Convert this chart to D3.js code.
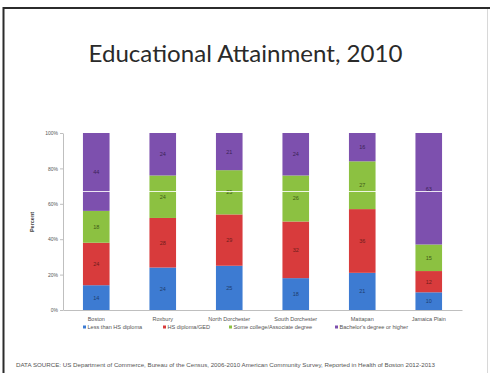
<!DOCTYPE html>
<html>
<head>
<meta charset="utf-8">
<script src="https://cdn.jsdelivr.net/npm/d3@7"></script>
<style>
  html, body { margin: 0; padding: 0; background: #fff; }
  svg { display: block; }
</style>
</head>
<body>
<svg id="chart" width="490" height="373"></svg>
<script>
// Neighborhoods shown along the x axis
const neighborhoods = ["Boston", "Roxbury", "North Dorchester", "South Dorchester", "Mattapan", "Jamaica Plain"];

// Education levels (stack order, bottom to top)
const levels = ["Less than HS diploma", "HS diploma/GED", "Some college/Associate degree", "Bachelor's degree or higher"];

// Percent of adults at each level, per neighborhood
const lessThanHS   = [14, 24, 25, 18, 21, 10];
const hsDiplomaGED = [24, 28, 29, 32, 36, 12];
const someCollege  = [18, 24, 25, 26, 27, 15];
const bachelors    = [44, 24, 21, 24, 16, 63];

const yTicks = [0, 0.2, 0.4, 0.6, 0.8, 1.0];

const colors = ["#3d7bd2", "#d83b3c", "#8cc141", "#7d50ae"];
const labelColors = ["#1d3d6e", "#6e1b1b", "#3f5a17", "#3b2356"];

const seriesValues = [lessThanHS, hsDiplomaGED, someCollege, bachelors];
const rows = neighborhoods.map((n, i) => {
  const r = { name: n };
  levels.forEach((l, j) => { r[l] = seriesValues[j][i]; });
  return r;
});

const svg = d3.select("#chart");

// Slide frame
svg.append("line").attr("x1", 3.5).attr("x2", 3.5).attr("y1", 7).attr("y2", 373)
  .attr("stroke", "#2b2b2b").attr("stroke-width", 2);
svg.append("line").attr("x1", 3).attr("x2", 490).attr("y1", 8).attr("y2", 8)
  .attr("stroke", "#2b2b2b").attr("stroke-width", 2);
svg.append("line").attr("x1", 487.5).attr("x2", 487.5).attr("y1", 9).attr("y2", 373)
  .attr("stroke", "#d8d8d8").attr("stroke-width", 1);

// Title
svg.append("text")
  .attr("x", 245.5).attr("y", 62)
  .attr("text-anchor", "middle")
  .attr("font-family", "Lato, 'Open Sans', sans-serif")
  .attr("font-size", 23.5)
  .attr("fill", "#2a2a2a")
  .attr("textLength", 314)
  .attr("lengthAdjust", "spacingAndGlyphs")
  .text("Educational Attainment, 2010");

const x = d3.scaleBand()
  .domain(neighborhoods)
  .range([63, 462])
  .paddingInner(0.6)
  .paddingOuter(0.3);

const y = d3.scaleLinear().domain([0, 100]).range([310, 133]);
const yPct = d3.scaleLinear().domain([0, 1]).range([310, 133]);

const stack = d3.stack().keys(levels);
const series = stack(rows);

// Bars
const g = svg.append("g");
series.forEach((s, si) => {
  g.selectAll(null).data(s).enter().append("rect")
    .attr("x", d => x(d.data.name))
    .attr("width", x.bandwidth())
    .attr("y", d => y(d[1]))
    .attr("height", d => y(d[0]) - y(d[1]))
    .attr("fill", colors[si]);
  g.selectAll(null).data(s).enter().append("text")
    .attr("x", d => x(d.data.name) + x.bandwidth() / 2)
    .attr("y", d => (y(d[0]) + y(d[1])) / 2 + 2)
    .attr("text-anchor", "middle")
    .attr("font-family", "'Liberation Sans', Arial, sans-serif")
    .attr("font-size", 5.5)
    .attr("fill", labelColors[si])
    .text(d => d.data[s.key]);
});

// Thin white rule crossing the slide
svg.append("line").attr("x1", 63).attr("x2", 462).attr("y1", 191.5).attr("y2", 191.5)
  .attr("stroke", "#ffffff").attr("stroke-width", 1).attr("opacity", 0.85);

// Y axis
const yAxis = svg.append("g")
  .attr("transform", "translate(63,0)")
  .call(d3.axisLeft(yPct).tickValues(yTicks).tickFormat(d3.format(".0%")).tickSize(3).tickSizeOuter(0));
yAxis.select(".domain").attr("stroke", "#bfbfbf");
yAxis.selectAll(".tick line").attr("stroke", "#bfbfbf");
yAxis.selectAll("text")
  .attr("font-family", "'Liberation Sans', Arial, sans-serif")
  .attr("font-size", 5)
  .attr("fill", "#555")
  .attr("x", -5);

svg.append("text")
  .attr("transform", "translate(34,222) rotate(-90)")
  .attr("text-anchor", "middle")
  .attr("font-family", "'Liberation Sans', Arial, sans-serif")
  .attr("font-size", 5.5)
  .attr("font-weight", "bold")
  .attr("fill", "#444")
  .text("Percent");

// X axis
const xAxis = svg.append("g")
  .attr("transform", "translate(0,310)")
  .call(d3.axisBottom(x).tickSize(0).tickSizeOuter(0));
xAxis.select(".domain").attr("stroke", "#bfbfbf");
xAxis.selectAll("text")
  .attr("font-family", "'Liberation Sans', Arial, sans-serif")
  .attr("font-size", 5.5)
  .attr("fill", "#555")
  .attr("dy", "0")
  .attr("y", 11);

// Legend
const legendX = [83, 163, 229, 335];
const legend = svg.append("g");
levels.forEach((l, i) => {
  legend.append("rect")
    .attr("x", legendX[i]).attr("y", 325.5)
    .attr("width", 3).attr("height", 3)
    .attr("fill", colors[i]);
  legend.append("text")
    .attr("x", legendX[i] + 4.5).attr("y", 328.8)
    .attr("font-family", "'Liberation Sans', Arial, sans-serif")
    .attr("font-size", 5.6)
    .attr("fill", "#555")
    .text(l);
});

// Source note
svg.append("text")
  .attr("x", 16).attr("y", 367)
  .attr("font-family", "'Liberation Sans', Arial, sans-serif")
  .attr("font-size", 5)
  .attr("fill", "#555")
  .attr("textLength", 419)
  .attr("lengthAdjust", "spacingAndGlyphs")
  .text("DATA SOURCE: US Department of Commerce, Bureau of the Census, 2006-2010 American Community Survey, Reported in Health of Boston 2012-2013");
</script>
</body>
</html>
